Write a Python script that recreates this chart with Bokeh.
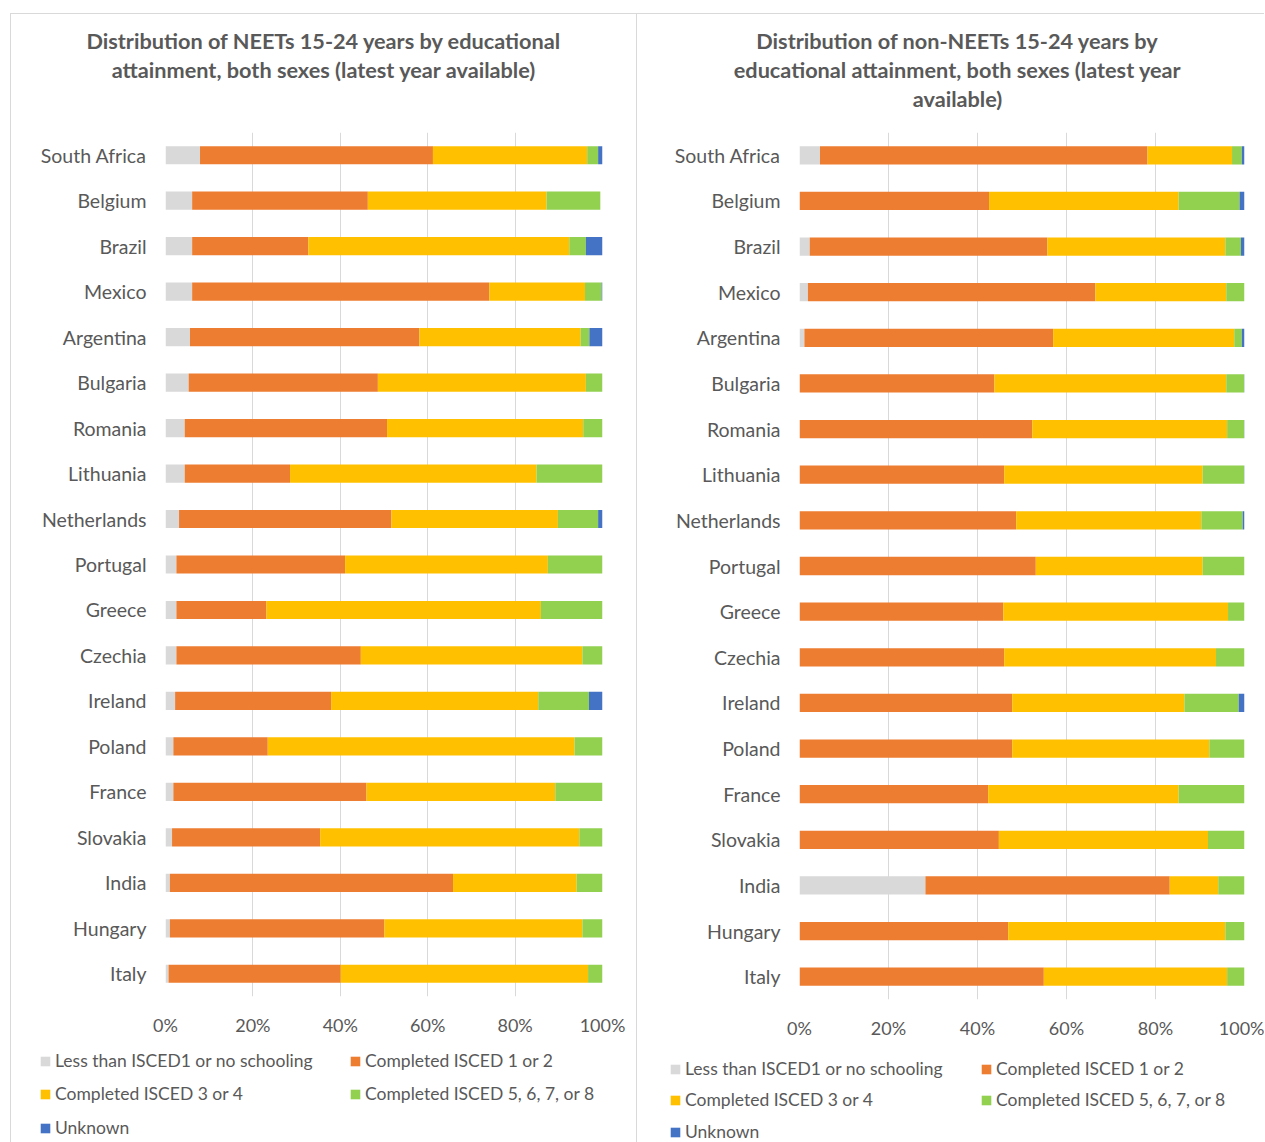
from bokeh.plotting import figure
from bokeh.models import (FactorRange, Range1d, Legend, LegendItem, Label,
                          FixedTicker, PrintfTickFormatter, ColumnDataSource)
from bokeh.layouts import row, column
from bokeh.embed import file_html
from bokeh.resources import INLINE

countries = ["South Africa", "Belgium", "Brazil", "Mexico", "Argentina", "Bulgaria",
             "Romania", "Lithuania", "Netherlands", "Portugal", "Greece", "Czechia",
             "Ireland", "Poland", "France", "Slovakia", "India", "Hungary", "Italy"]
categories = ["Less than ISCED1 or no schooling", "Completed ISCED 1 or 2",
              "Completed ISCED 3 or 4", "Completed ISCED 5, 6, 7, or 8", "Unknown"]
colors = ["#D9D9D9", "#ED7D31", "#FFC000", "#92D050", "#4472C4"]
tick_values = [0, 20, 40, 60, 80, 100]

# NEETs (percent)
neet_less = [7.9, 6.1, 6.1, 6.1, 5.6, 5.3, 4.4, 4.4, 3.1, 2.5, 2.5, 2.5, 2.2, 1.8, 1.8, 1.5, 1.0, 1.0, 0.7]
neet_isced12 = [53.3, 40.2, 26.6, 68.0, 52.5, 43.3, 46.3, 24.1, 48.6, 38.6, 20.6, 42.2, 35.7, 21.6, 44.2, 33.9, 64.8, 49.1, 39.4]
neet_isced34 = [35.3, 40.9, 59.7, 21.9, 36.9, 47.6, 44.9, 56.4, 38.1, 46.4, 62.8, 50.7, 47.4, 70.2, 43.2, 59.3, 28.3, 45.3, 56.6]
neet_isced58 = [2.5, 12.3, 3.8, 3.8, 2.0, 3.8, 4.4, 15.1, 9.2, 12.5, 14.1, 4.6, 11.6, 6.4, 10.8, 5.3, 5.9, 4.6, 3.3]
neet_unknown = [1.0, 0.0, 3.8, 0.2, 3.0, 0.0, 0.0, 0.0, 1.0, 0.0, 0.0, 0.0, 3.1, 0.0, 0.0, 0.0, 0.0, 0.0, 0.0]

# non-NEETs (percent)
non_less = [4.6, 0.0, 2.3, 1.9, 1.1, 0.0, 0.0, 0.0, 0.0, 0.0, 0.0, 0.0, 0.0, 0.0, 0.0, 0.0, 28.3, 0.0, 0.0]
non_isced12 = [73.6, 42.6, 53.4, 64.6, 55.9, 43.8, 52.3, 46.0, 48.7, 53.1, 45.8, 46.0, 47.8, 47.8, 42.4, 44.8, 54.9, 46.9, 54.9]
non_isced34 = [19.0, 42.6, 40.0, 29.4, 40.7, 52.1, 43.8, 44.6, 41.6, 37.5, 50.5, 47.6, 38.7, 44.3, 42.8, 47.0, 10.9, 48.8, 41.2]
non_isced58 = [2.2, 13.7, 3.5, 4.1, 1.7, 4.0, 3.8, 9.3, 9.3, 9.4, 3.7, 6.4, 12.2, 7.9, 14.8, 8.2, 5.9, 4.3, 3.9]
non_unknown = [0.6, 1.1, 0.8, 0.0, 0.6, 0.1, 0.1, 0.1, 0.4, 0.0, 0.0, 0.0, 1.3, 0.0, 0.0, 0.0, 0.0, 0.0, 0.0]

title_left = ["Distribution of NEETs 15-24 years by educational",
              "attainment, both sexes (latest year available)"]
title_right = ["Distribution of non-NEETs 15-24 years by",
               "educational attainment, both sexes (latest year",
               "available)"]

TXT = "#595959"
FONT = "Lato"
BORDER = "#D9D9D9"
KEYS = ["c0", "c1", "c2", "c3", "c4"]


def make_source(series):
    data = {"country": countries}
    for k, s in zip(KEYS, series):
        data[k] = s
    return ColumnDataSource(data)


def style_blank(f, shadow):
    f.grid.visible = False
    f.outline_line_color = None
    f.border_fill_color = None
    f.background_fill_color = None
    f.styles = {"box-shadow": shadow}


def title_fig(lines, width, height, cx, y0):
    f = figure(width=width, height=height, x_range=Range1d(0, width), y_range=Range1d(0, height),
               output_backend="svg", toolbar_location=None, x_axis_location=None,
               y_axis_location=None, min_border=0, frame_align=False)
    style_blank(f, "inset 1px 1px 0 0 " + BORDER)
    for i, line in enumerate(lines):
        f.add_layout(Label(x=cx, y=y0 - 29 * i, text=line, text_align="center",
                           text_baseline="middle", text_font=FONT, text_font_style="bold",
                           text_font_size="21.7px", text_color=TXT))
    return f


def main_fig(src, width, height, bl, br):
    p = figure(width=width, height=height,
               y_range=FactorRange(*countries[::-1]), x_range=Range1d(0, 100),
               output_backend="svg", toolbar_location=None, frame_align=False,
               min_border_left=bl, min_border_right=br,
               min_border_top=0, min_border_bottom=40)
    p.hbar_stack(KEYS, y="country", height=0.4, color=colors, line_color=None, source=src)
    p.outline_line_color = None
    p.border_fill_color = None
    p.background_fill_color = None
    p.ygrid.grid_line_color = None
    p.xgrid.grid_line_color = BORDER
    p.xgrid.grid_line_width = 1
    p.xaxis.ticker = FixedTicker(ticks=tick_values)
    p.xaxis.formatter = PrintfTickFormatter(format="%d%%")
    for ax in (p.xaxis, p.yaxis):
        ax.axis_line_color = None
        ax.major_tick_line_color = None
        ax.minor_tick_line_color = None
        ax.major_tick_in = 0
        ax.major_tick_out = 0
        ax.major_label_text_color = TXT
        ax.major_label_text_font = FONT
    p.xaxis.major_label_text_font_size = "18px"
    p.xaxis.major_label_standoff = 17
    p.yaxis.major_label_text_font_size = "19.5px"
    p.yaxis.major_label_standoff = 19
    p.styles = {"box-shadow": "inset 1px 0 0 0 " + BORDER}
    return p


def legend_fig(src, width, height, positions):
    # legend-only canvas: the stacked renderers are kept hidden, only their legend keys show
    f = figure(width=width, height=height, y_range=FactorRange(*countries[::-1]),
               x_range=Range1d(0, 100), output_backend="svg", toolbar_location=None,
               x_axis_location=None, y_axis_location=None, min_border=0, frame_align=False)
    style_blank(f, "inset 1px 0 0 0 " + BORDER)
    rends = f.hbar_stack(KEYS, y="country", height=0.4, color=colors, line_color=None, source=src)
    for r, lab, (lx, ly) in zip(rends, categories, positions):
        r.visible = False
        lg = Legend(items=[LegendItem(label=lab, renderers=[r])], location=(lx, ly),
                    orientation="horizontal", padding=0, margin=0, spacing=0,
                    glyph_width=12, glyph_height=12, label_standoff=4, label_height=20,
                    label_text_font=FONT, label_text_font_size="17.5px",
                    label_text_color=TXT, border_line_color=None,
                    background_fill_alpha=0, click_policy="none")
        f.add_layout(lg, "center")
    return f


src1 = make_source([neet_less, neet_isced12, neet_isced34, neet_isced58, neet_unknown])
src2 = make_source([non_less, non_isced12, non_isced34, non_isced58, non_unknown])

t1 = title_fig(title_left, 626, 119, 313.5, 92)
m1 = main_fig(src1, 626, 906, 155, 34)
l1 = legend_fig(src1, 626, 104, [(29, 71), (339, 71), (29, 38), (339, 38), (29, 4)])

t2 = title_fig(title_right, 628, 119, 321, 92)
m2 = main_fig(src2, 628, 909, 163, 20)
l2 = legend_fig(src2, 628, 101, [(33, 63), (344, 63), (33, 32), (344, 32), (33, 0)])

left = column(t1, m1, l1, margin=(13, 0, 0, 10))
right = column(t2, m2, l2, margin=(13, 0, 0, 0))
layout = row(left, right)
open("out.html", "w").write(file_html(layout, INLINE))
